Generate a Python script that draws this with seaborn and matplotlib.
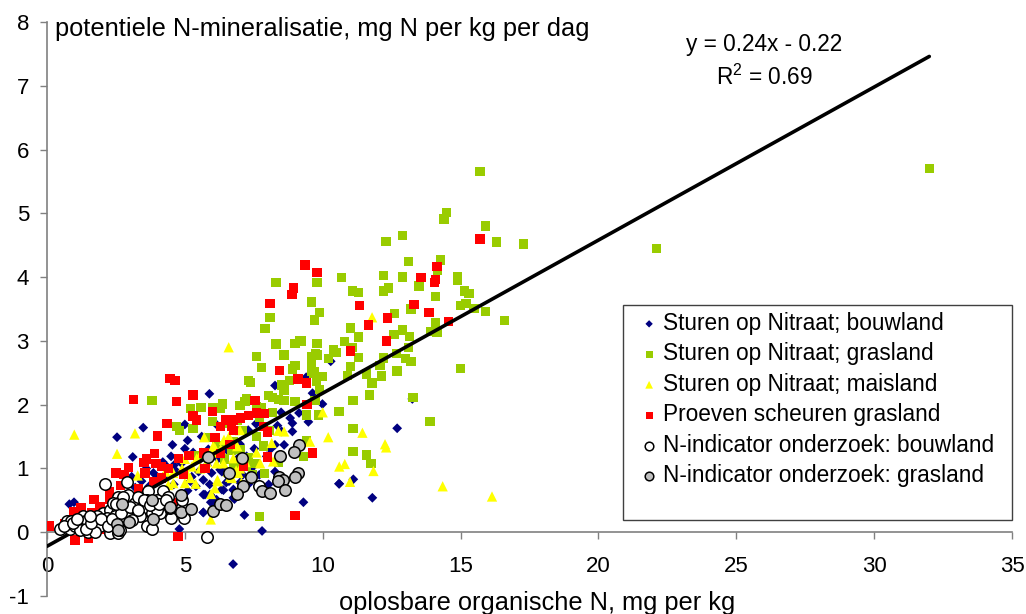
import matplotlib
matplotlib.use("Agg")
import matplotlib.pyplot as plt
import seaborn as sns
from matplotlib.patches import Rectangle

# series: oplosbare organische N (x), N-mineralisatie (y)
bouw_x = [3.49,2.54,3.11,5.89,5.0,5.1,4.55,5.0,5.61,4.5,6.12,7.3,7.58,7.0,7.52,8.27,8.49,8.82,8.9,8.9,9.48,9.63,9.99,9.4,10.29,8.51,8.6,8.27,9.3,8.04,7.8,7.16,5.67,4.8,6.75,0.98,0.81,5.94,6.15,6.8,10.6,5.67,5.97,6.4,6.76,5.67,5.97,6.4,5.55,5.25,4.88,4.22,3.86,3.43,3.07,6.52,6.28,6.76,7.24,7.97,7.48,12.7,11.11,10.59,11.8,13.25,9.14,8.36,7.12,7.36,8.27,6.34,5.73,5.67,5.91,6.09,6.34,6.76,6.76,4.3,4.7,5.2,5.4,3.7,4.0,4.9,5.8,6.0,6.6,7.0,7.7,8.1,4.6,5.1,5.5,5.85,6.2,6.5,7.1,7.3,5.3,4.2,3.6,3.2,4.6,5.9,6.9]
bouw_y = [1.64,1.49,1.18,2.17,1.69,1.44,1.37,1.31,1.5,1.19,1.7,1.6,1.7,1.38,1.31,2.3,1.88,1.79,1.71,1.58,1.73,2.18,2.01,2.43,2.68,1.58,1.37,1.37,0.47,0.75,0.02,0.27,0.31,0.05,-0.5,0.47,0.44,0.47,0.51,0.52,0.76,0.59,0.56,0.66,0.66,0.82,0.93,0.95,1.14,0.87,1.08,0.87,0.93,0.8,0.87,1.29,0.98,1.35,1.19,1.19,1.03,1.63,0.83,0.76,0.54,2.09,1.87,1.67,1.06,1.0,0.95,0.95,0.59,0.31,0.59,0.43,0.67,0.67,0.54,1.05,0.95,0.8,0.72,0.72,0.85,0.6,1.05,1.2,0.8,0.78,0.9,1.3,0.75,0.65,0.95,1.3,1.15,0.78,0.9,0.75,1.25,1.1,1.0,0.7,1.05,0.75,1.15]

gras_x = [32.0,22.1,15.71,14.5,14.4,15.9,16.3,17.29,12.3,12.9,13.1,14.26,14.16,12.2,12.9,10.69,9.79,11.09,11.29,12.2,12.39,13.49,14.9,14.9,14.09,15.14,15.3,15.0,15.2,15.49,15.9,16.59,9.6,9.89,9.69,12.6,13.2,11.0,11.29,14.09,13.9,14.14,12.9,12.59,13.14,9.24,9.79,10.8,10.39,10.48,9.79,9.6,11.09,11.29,10.2,13.1,12.68,12.2,12.08,13.0,13.2,12.68,11.0,9.6,9.69,14.99,11.6,12.14,10.9,8.31,8.09,7.91,8.31,9.0,9.18,7.59,8.6,7.79,9.0,8.9,7.31,7.39,8.5,8.79,8.6,8.03,8.19,8.4,8.6,9.0,7.24,7.0,7.18,6.37,6.28,5.61,6.0,6.0,7.61,7.79,8.19,9.4,9.84,10.59,11.1,9.72,11.69,11.79,12.14,12.7,10.9,11.6,10.0,9.88,9.78,9.6,9.66,9.75,13.28,13.89,11.1,11.6,11.75,11.1,9.4,9.3,7.6,7.85,7.9,7.7,8.39,7.54,7.3,6.7,6.88,6.76,6.15,5.9,3.81,5.2,5.59,4.7,4.8,5.3,6.27,6.76,7.24,5.5,6.45,7.0,7.45,6.6,7.7,8.05,7.1,6.9]
gras_y = [5.7,4.45,5.66,5.01,4.91,4.8,4.55,4.52,4.56,4.65,4.24,4.27,4.1,4.02,4.0,3.99,3.92,3.78,3.76,3.78,3.83,3.86,4.0,3.95,3.7,3.78,3.74,3.56,3.59,3.51,3.46,3.32,3.61,3.44,3.33,3.43,3.5,3.2,3.06,3.28,3.15,3.14,3.17,3.1,3.07,3.0,2.96,2.99,2.86,2.82,2.78,2.76,2.9,2.74,2.72,2.9,2.8,2.73,2.61,2.72,2.68,2.54,2.6,2.64,2.52,2.57,2.48,2.45,2.46,3.92,3.37,3.19,2.95,2.96,3.0,2.76,2.78,2.58,2.61,2.56,2.38,2.35,2.31,2.38,2.23,2.14,2.11,2.08,2.07,2.05,2.1,1.99,2.05,2.01,1.95,1.96,1.96,1.74,1.97,1.95,1.88,1.84,1.84,1.89,2.06,2.07,2.15,2.34,2.44,2.53,2.46,2.47,2.44,2.24,2.36,2.52,2.49,2.8,2.11,1.74,1.63,1.21,1.08,1.27,1.44,1.19,1.5,1.35,0.92,0.25,1.09,1.08,1.17,1.29,1.08,1.42,1.35,1.48,2.06,1.94,1.96,1.66,1.6,1.63,1.35,1.03,1.03,1.2,1.15,1.3,0.9,1.7,1.8,1.6,1.6,1.75]

mais_x = [0.99,2.54,3.19,6.59,5.7,6.42,7.0,5.94,6.09,6.2,5.39,5.0,4.58,4.4,3.29,5.43,6.03,6.15,6.4,6.76,6.94,6.64,7.73,8.2,8.15,8.39,8.6,9.54,10.0,10.2,10.6,7.0,5.25,5.07,5.55,4.58,11.79,11.44,12.26,12.3,10.8,11.84,10.99,14.35,16.14,6.86,6.7,6.18,6.09,4.9,5.2,5.6,5.8,6.0,6.3,6.55,6.9,7.2,4.3,5.0,6.6,5.95,7.6,7.05]
mais_y = [1.53,1.23,1.55,2.9,1.49,1.45,1.6,0.2,0.69,0.8,0.76,0.77,0.93,0.74,0.89,1.16,1.35,1.08,1.08,1.16,0.93,0.87,1.08,1.11,1.4,1.59,1.58,1.42,1.88,1.49,1.03,1.0,1.03,0.93,1.0,0.77,3.37,1.56,1.38,1.33,1.07,0.96,0.79,0.72,0.56,0.97,0.85,0.82,1.32,1.0,0.85,1.25,1.1,1.25,1.3,0.95,1.35,1.1,0.95,1.15,1.5,0.6,1.25,0.78]

scheur_x = [9.36,9.79,14.15,15.71,13.56,14.1,14.05,11.34,13.31,13.85,14.55,12.36,11.66,12.31,11.0,8.95,8.89,8.09,8.43,9.1,9.42,7.54,9.43,6.0,6.49,6.3,6.76,6.7,6.76,7.03,7.3,7.6,7.88,7.85,8.0,6.09,6.64,9.64,8.0,7.12,5.73,6.3,9.0,0.08,3.14,4.46,4.64,4.69,5.3,5.3,5.43,4.35,4.0,5.7,3.89,3.62,3.52,3.95,4.16,4.4,2.95,2.5,2.79,3.55,4.76,5.15,4.95,3.86,4.16,2.67,3.31,2.26,2.29,1.7,4.76,1.92,1.23,0.98,1.62,1.02,1.5,4.75,1.92,0.65]
scheur_y = [4.19,4.07,4.17,4.6,3.99,3.96,3.92,3.55,3.57,3.45,3.3,3.36,3.25,3.0,2.84,3.83,3.73,3.59,2.54,2.4,2.34,2.07,2.0,1.89,1.76,1.66,1.76,1.66,1.6,1.79,1.83,1.87,1.86,1.66,1.57,1.49,1.38,1.24,1.18,1.04,1.0,1.23,0.26,0.1,2.08,2.41,2.38,2.05,2.15,1.82,1.76,1.7,1.51,1.24,1.23,1.15,1.09,1.08,1.03,1.0,1.01,0.93,0.9,0.93,1.16,1.2,0.9,0.8,0.85,0.73,0.69,0.64,0.51,0.51,0.46,0.4,0.39,0.32,0.3,-0.12,-0.09,-0.07,0.04,0.14]

ind_bouw_x = [2.1,2.89,5.79,0.47,0.71,0.87,0.83,1.2,1.29,1.32,1.5,1.68,1.89,2.1,2.29,2.04,2.29,2.53,2.59,2.65,2.95,3.19,3.49,3.62,3.8,3.37,3.13,2.89,2.59,2.47,1.92,1.56,1.02,1.2,3.68,4.2,3.98,3.62,4.22,4.1,3.8,4.5,4.4,4.88,4.98,4.88,3.98,4.46,2.65,3.07,2.83,2.41,3.31,2.16,1.44,1.8,2.47,2.65,1.74,7.7,0.6,0.95,1.1,1.4,1.6,1.95,2.2,2.35,2.7,2.75,3.0,3.3,3.5,3.75,4.05,4.3,2.5,1.55]
ind_bouw_y = [0.75,0.78,-0.08,0.05,0.17,0.18,0.05,0.17,0.26,0.14,0.01,0.22,0.17,0.13,-0.02,0.3,0.35,0.3,0.56,0.48,0.59,0.46,0.38,0.09,0.05,0.25,0.32,0.27,-0.02,0.14,0.09,0.09,0.09,0.04,0.64,0.64,0.51,0.51,0.4,0.3,0.3,0.23,0.56,0.4,0.22,0.51,0.35,0.38,0.19,0.19,0.4,0.46,0.56,0.22,0.19,0.25,0.25,0.04,0.01,0.73,0.1,0.15,0.2,0.05,0.15,0.2,0.1,0.2,0.3,0.55,0.4,0.35,0.5,0.42,0.45,0.5,0.45,0.25]

ind_gras_x = [5.85,7.07,9.14,8.97,8.45,6.6,7.41,8.43,9.12,9.0,8.57,8.39,8.65,7.12,6.88,7.79,8.09,6.01,6.28,6.49,4.86,4.46,4.86,5.21,3.83,3.8,2.96,2.53,2.71,2.59]
ind_gras_y = [1.18,1.16,1.36,1.26,1.19,0.93,0.87,0.87,0.93,0.86,0.82,0.8,0.66,0.72,0.6,0.65,0.61,0.34,0.45,0.42,0.59,0.39,0.32,0.37,0.21,0.5,0.16,0.13,0.44,0.04]

fit_slope = 0.24
fit_intercept = -0.22
fit_x = [0, 32]

x_ticks = [0, 5, 10, 15, 20, 25, 30, 35]
y_ticks = [-1, 0, 1, 2, 3, 4, 5, 6, 7, 8]

sns.set_theme(style="white")
plt.rcParams['font.family'] = ['Liberation Sans', 'DejaVu Sans']
plt.rcParams['axes.unicode_minus'] = False
plt.rcParams['text.color'] = 'black'
plt.rcParams['mathtext.fontset'] = 'custom'
plt.rcParams['mathtext.rm'] = 'Liberation Sans'
plt.rcParams['mathtext.default'] = 'rm'

W, H = 1026, 614
fig = plt.figure(figsize=(W / 100, H / 100), dpi=100)
ax = fig.add_axes([47 / W, (H - 596) / H, 965 / W, 574 / H])

grey = "#808080"
series = [
    (bouw_x, bouw_y, "D", "#000080", 25, "Sturen op Nitraat; bouwland"),
    (gras_x, gras_y, "s", "#99cc00", 45, "Sturen op Nitraat; grasland"),
    (mais_x, mais_y, "^", "#ffff00", 55, "Sturen op Nitraat; maisland"),
    (scheur_x, scheur_y, "s", "#ff0000", 45, "Proeven scheuren grasland"),
    (ind_bouw_x, ind_bouw_y, "o", "#ffffff", 68, "N-indicator onderzoek: bouwland"),
    (ind_gras_x, ind_gras_y, "o", "#c0c0c0", 68, "N-indicator onderzoek: grasland"),
]
for i, (xs, ys, mk, col, size, lab) in enumerate(series):
    circle = mk == "o"
    sns.scatterplot(x=xs, y=ys, marker=mk, color=col, s=size, label=lab, ax=ax, zorder=3 + i,
                    edgecolor="black" if circle else "none", linewidth=1.1 if circle else 0)

# trend line lies over the squares but under the circles
fit_y = [fit_slope * v + fit_intercept for v in fit_x]
sns.lineplot(x=fit_x, y=fit_y, color="black", linewidth=2.6, ax=ax, zorder=6.5, legend=False)

ax.set_xlim(0, 35)
ax.set_ylim(-1, 8)
ax.set_xticks(x_ticks)
ax.set_yticks(y_ticks)
ax.spines['top'].set_visible(False)
ax.spines['right'].set_visible(False)
ax.spines['bottom'].set_position(('data', 0))
for side in ['left', 'bottom']:
    ax.spines[side].set_color(grey)
    ax.spines[side].set_linewidth(1.2)
    ax.spines[side].set_zorder(1)
ax.tick_params(axis='x', direction='out', length=5, width=1, color=grey, labelsize=16, pad=12, bottom=True, labelcolor="black")
ax.tick_params(axis='y', direction='out', length=5, width=1, color=grey, labelsize=16, pad=8, left=True, labelcolor="black")

def px(x, y):
    return x / W, 1 - y / H

fig.text(*px(55, 29), "potentiele N-mineralisatie, mg N per kg per dag", fontsize=18.3, va='center', ha='left')
fig.text(*px(764, 45), "y = 0.24x - 0.22", fontsize=16.3, va='center', ha='center')
fig.text(*px(764, 77), "R$^2$ = 0.69", fontsize=16.3, va='center', ha='center')
fig.text(*px(537, 603), "oplosbare organische N, mg per kg", fontsize=18.3, va='center', ha='center')

# legend box is taller than its rows, so the frame is drawn on its own
box = Rectangle((623 / W, 1 - 520 / H), 389 / W, 215 / H, transform=fig.transFigure,
                facecolor="white", edgecolor="#404040", linewidth=1, zorder=20)
fig.add_artist(box)

handles, labels = ax.get_legend_handles_labels()
ax.get_legend().remove()
leg = fig.legend(handles, labels, loc='upper left', bbox_to_anchor=px(631, 305),
                 frameon=False, fontsize=16.3, labelspacing=0.33, handletextpad=0.1,
                 borderpad=0.3, borderaxespad=0, markerscale=0.75, handlelength=1.0)
leg.set_zorder(30)

fig.savefig("out.png", dpi=100)
